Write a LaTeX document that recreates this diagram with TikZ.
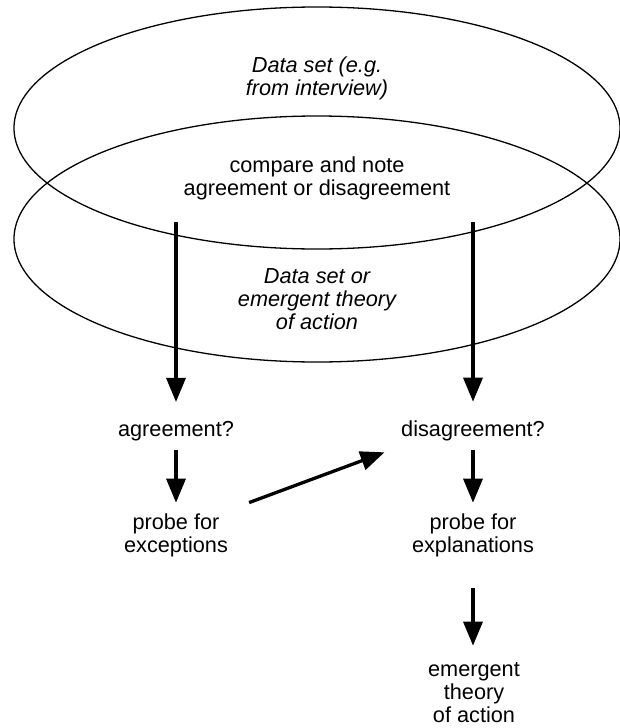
\documentclass[tikz,border=0pt]{standalone}
\usepackage{fontspec}
\setmainfont{Liberation Sans}
\usetikzlibrary{shapes.geometric, arrows.meta}
\begin{document}
\begin{tikzpicture}[x=1pt, y=-1pt, font=\fontsize{21.7}{23}\selectfont,
          setring/.style={ellipse, draw, line width=1.3pt, minimum width=606pt, minimum height=242pt, inner sep=0pt},
          txt/.style={align=center, inner sep=0pt},
          flow/.style={-{Triangle[length=24pt, width=19pt]}, line width=3.3pt}]
        \useasboundingbox (0,0) rectangle (620,728);
        % the two data sets
        \node [setring] (upper) at (317,128) {};
        \node [setring, minimum height=246pt] (lower) at (317,239) {};
        \node [txt, font=\fontsize{21.7}{23}\selectfont\itshape] (ds1) at (317,78) {Data set (e.g.\\from interview)};
        \node [txt] (cmp) at (317,178) {compare and note\\agreement or disagreement};
        \node [txt, font=\fontsize{21.7}{23}\selectfont\itshape] (ds2) at (317,299) {Data set or\\emergent theory\\of action};
        \coordinate (outL) at (176,222);
        \coordinate (outR) at (473,222);

        \node [txt] (agree) at (176,431) {agreement?};
        \node [txt] (disagree) at (473,431) {disagreement?};
        \node [txt] (probeE) at (176,535) {probe for\\exceptions};
        \node [txt] (probeX) at (473,535) {probe for\\explanations};
        \node [txt] (emerg) at (474,693) {emergent\\theory\\of action};

        \draw [flow, shorten >=19pt] (outL) -- (agree);
        \draw [flow, shorten >=19pt] (outR) -- (disagree);
        \draw [flow, shorten <=9pt, shorten >=10.5pt] (agree) -- (probeE);
        \draw [flow, shorten <=9pt, shorten >=10.5pt] (disagree) -- (probeX);
        \draw [flow, shorten <=31.6pt, shorten >=17pt] (probeX.south) -- (emerg.north -| probeX.south);
        \draw [flow] ([xshift=21pt, yshift=10.6pt]probeE.north east) -- ([xshift=-16.5pt, yshift=-11pt]disagree.south west);
      \end{tikzpicture}
\end{document}
